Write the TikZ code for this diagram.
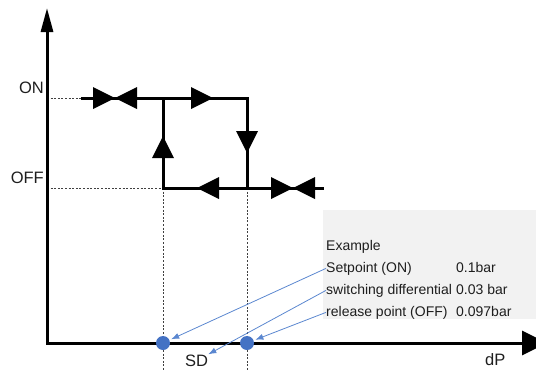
\documentclass[tikz,border=0pt]{standalone}
\usepackage{fontspec}
\setmainfont{Liberation Sans}
\usetikzlibrary{arrows.meta,positioning}
\definecolor{dotblue}{HTML}{4472C4}
\definecolor{callblue}{HTML}{5B87D0}
\definecolor{boxgray}{HTML}{F2F2F2}
\definecolor{textgray}{HTML}{1E1E1E}
\newcommand{\flowtip}{\fill (0,0) -- (-22,-11) -- (-22,11) -- cycle;}

\begin{document}
\begin{tikzpicture}[x=1pt, y=-1pt,
	axis/.style = {line width=3pt, line join=miter},
	flow/.style = {line width=3pt, line join=miter},
	guide/.style = {line width=0.8pt, black!75, dash pattern=on 2pt off 1.6pt},
	dot/.style = {circle, fill=dotblue, inner sep=0pt, minimum size=14pt, outer sep=2pt},
	call/.style = {callblue, line width=0.8pt, -{Latex[length=8pt,width=6pt]}},
	lbl/.style = {font=\fontsize{14}{16}\selectfont, inner sep=0pt, text=textgray, anchor=base west},
	lvl/.style = {font=\fontsize{16.5}{18}\selectfont, inner sep=0pt, text=textgray, anchor=base east}]

	\useasboundingbox (0,0) rectangle (536,370);

	% example box
	\fill[boxgray] (323,210) rectangle (536,319);

	% points
	\coordinate (origin) at (47,343);
	\coordinate (ytop) at (47,8);
	\coordinate (xend) at (547,343);
	\coordinate (on0) at (47,98);
	\coordinate (on1) at (81,98);
	\coordinate (up) at (163,98);
	\coordinate (dn) at (247,98);
	\coordinate (off0) at (47,188);
	\coordinate (offup) at (163,188);
	\coordinate (offdn) at (247,188);
	\coordinate (off1) at (324,188);
	\coordinate (upbot) at (163,372);
	\coordinate (dnbot) at (247,372);

	% dashed guides
	\draw[guide] (on0) -- (on1);
	\draw[guide] (off0) -- (offup);
	\draw[guide] (offup) -- (upbot);
	\draw[guide] (offdn) -- (dnbot);

	% axes
	\draw[axis, {Triangle[length=24pt,width=12pt]}-{Triangle[length=25pt,width=24pt]}] (ytop) -- (origin) -- (xend);

	% hysteresis loop
	\draw[flow] (on1) -- (dn) -- (offdn);
	\draw[flow] (up) -- (offup) -- (off1);

	\begin{scope}[shift={(115,98)}]
		\flowtip
	\end{scope}
	\begin{scope}[shift={(115,98)}, rotate=180]
		\flowtip
	\end{scope}
	\begin{scope}[shift={(213,98)}]
		\flowtip
	\end{scope}
	\begin{scope}[shift={(163,136)}, rotate=90]
		\flowtip
	\end{scope}
	\begin{scope}[shift={(247,153)}, rotate=-90]
		\flowtip
	\end{scope}
	\begin{scope}[shift={(197,188)}, rotate=180]
		\flowtip
	\end{scope}
	\begin{scope}[shift={(293,188)}]
		\flowtip
	\end{scope}
	\begin{scope}[shift={(293,188)}, rotate=180]
		\flowtip
	\end{scope}

	% levels
	\node[lvl] (on) at (44,93) {ON};
	\node[lvl] (off) at (44,183) {OFF};
	\node[lvl, anchor=base west] (sd) at (185,366) {SD};
	\node[lvl, anchor=base west] (dp) at (485,365) {dP};

	% switch points
	\node[dot] (spdot) at (163,343) {};
	\node[dot] (rpdot) at (247,343) {};

	% example
	\node[lbl] (ex) at (326,250) {Example};
	\node[lbl] (sp) at (326,272) {Setpoint (ON)};
	\node[lbl] (sw) at (326,294) {switching differential};
	\node[lbl] (rp) at (326,316) {release point (OFF)};
	\node[lbl] (spval) at (456,272) {0.1bar};
	\node[lbl] (swval) at (456,294) {0.03 bar};
	\node[lbl] (rpval) at (456,316) {0.097bar};

	\draw[call] (sp.west) -- (spdot);
	\draw[call] (sw.west) -- (sd.north east);
	\draw[call] (rp.west) -- (rpdot);

\end{tikzpicture}
\end{document}
